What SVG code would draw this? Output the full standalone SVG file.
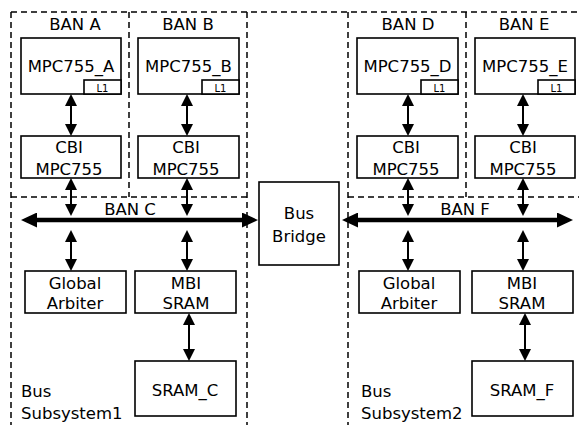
<svg xmlns="http://www.w3.org/2000/svg" width="579" height="425" viewBox="0 0 579 425">
<style>
text{font-family:"DejaVu Sans","Liberation Sans",sans-serif;font-size:16.5px;fill:#000;text-anchor:middle}
.l{text-anchor:start}
.s{font-size:10px}
.box{fill:#fff;stroke:#000;stroke-width:1.6}
.dash{fill:none;stroke:#000;stroke-width:1.5;stroke-dasharray:6 4}
.ar{stroke:#000;stroke-width:2;marker-start:url(#a);marker-end:url(#a)}
.bus{stroke:#000;stroke-width:4.5;marker-start:url(#b);marker-end:url(#b)}
</style>
<defs>
<marker id="a" viewBox="0 0 12 12" refX="6" refY="6" markerWidth="12" markerHeight="12" markerUnits="userSpaceOnUse" orient="auto-start-reverse"><path d="M0,0L12,6L0,12z" fill="#000"/></marker>
<marker id="b" viewBox="0 0 16 15" refX="8" refY="7.5" markerWidth="16" markerHeight="15" markerUnits="userSpaceOnUse" orient="auto-start-reverse"><path d="M0,0L16,7.5L0,15z" fill="#000"/></marker>
</defs>
<g id="regions">
<path class="dash" d="M11,12H579M11,12V425M129,12V197M247,12V425M11,197H247M348,12V425M466,12V197M348,197H579"/>
<text x="75" y="30">BAN A</text>
<text x="188" y="30">BAN B</text>
<text x="408" y="30">BAN D</text>
<text x="524" y="30">BAN E</text>
<text x="130" y="215">BAN C</text>
<text x="465" y="215">BAN F</text>
<text class="l" x="21" y="397">Bus</text>
<text class="l" x="21" y="419">Subsystem1</text>
<text class="l" x="361" y="397">Bus</text>
<text class="l" x="361" y="419">Subsystem2</text>
</g>
<g id="connectors">
<line class="ar" x1="71" y1="100" x2="71" y2="130"/>
<line class="ar" x1="187" y1="100" x2="187" y2="130"/>
<line class="ar" x1="408" y1="100" x2="408" y2="130"/>
<line class="ar" x1="523" y1="100" x2="523" y2="130"/>
<line class="ar" x1="71" y1="184" x2="71" y2="210"/>
<line class="ar" x1="187" y1="184" x2="187" y2="210"/>
<line class="ar" x1="408" y1="184" x2="408" y2="210"/>
<line class="ar" x1="523" y1="184" x2="523" y2="210"/>
<line class="ar" x1="71" y1="236" x2="71" y2="265"/>
<line class="ar" x1="187" y1="236" x2="187" y2="265"/>
<line class="ar" x1="408" y1="236" x2="408" y2="265"/>
<line class="ar" x1="523" y1="236" x2="523" y2="265"/>
<line class="ar" x1="189" y1="319" x2="189" y2="355"/>
<line class="ar" x1="525" y1="319" x2="525" y2="355"/>
<line class="bus" x1="29" y1="220" x2="250" y2="220"/>
<line class="bus" x1="350" y1="220" x2="565" y2="220"/>
</g>
<g id="mpc_a"><rect class="box" x="21" y="38" width="100" height="56"/><text x="71" y="72">MPC755_A</text><rect class="box" x="84" y="80" width="37" height="14"/><text class="s" x="102.5" y="91.5">L1</text></g>
<g id="mpc_b"><rect class="box" x="138" y="38" width="101" height="56"/><text x="188.5" y="72">MPC755_B</text><rect class="box" x="202" y="80" width="37" height="14"/><text class="s" x="220.5" y="91.5">L1</text></g>
<g id="mpc_d"><rect class="box" x="357" y="38" width="101" height="56"/><text x="407.5" y="72">MPC755_D</text><rect class="box" x="421" y="80" width="37" height="14"/><text class="s" x="439.5" y="91.5">L1</text></g>
<g id="mpc_e"><rect class="box" x="475" y="38" width="100" height="56"/><text x="525" y="72">MPC755_E</text><rect class="box" x="538" y="80" width="37" height="14"/><text class="s" x="556.5" y="91.5">L1</text></g>
<g id="cbi_a"><rect class="box" x="21" y="136" width="100" height="42"/><text x="69" y="153">CBI</text><text x="69" y="175">MPC755</text></g>
<g id="cbi_b"><rect class="box" x="138" y="136" width="101" height="42"/><text x="186" y="153">CBI</text><text x="186" y="175">MPC755</text></g>
<g id="cbi_d"><rect class="box" x="357" y="136" width="101" height="42"/><text x="406" y="153">CBI</text><text x="406" y="175">MPC755</text></g>
<g id="cbi_e"><rect class="box" x="475" y="136" width="100" height="42"/><text x="523" y="153">CBI</text><text x="523" y="175">MPC755</text></g>
<g id="bridge"><rect class="box" x="259" y="182" width="80" height="83"/><text x="299" y="219">Bus</text><text x="299" y="242">Bridge</text></g>
<g id="arb_c"><rect class="box" x="25" y="271" width="101" height="42"/><text x="75" y="289">Global</text><text x="75" y="309">Arbiter</text></g>
<g id="mbi_c"><rect class="box" x="135" y="271" width="101" height="42"/><text x="186" y="289">MBI</text><text x="186" y="309">SRAM</text></g>
<g id="sram_c"><rect class="box" x="135" y="361" width="101" height="55"/><text x="185" y="396">SRAM_C</text></g>
<g id="arb_f"><rect class="box" x="359" y="271" width="101" height="42"/><text x="409" y="289">Global</text><text x="409" y="309">Arbiter</text></g>
<g id="mbi_f"><rect class="box" x="472" y="271" width="101" height="42"/><text x="522" y="289">MBI</text><text x="522" y="309">SRAM</text></g>
<g id="sram_f"><rect class="box" x="472" y="361" width="101" height="55"/><text x="522" y="396">SRAM_F</text></g>
</svg>
